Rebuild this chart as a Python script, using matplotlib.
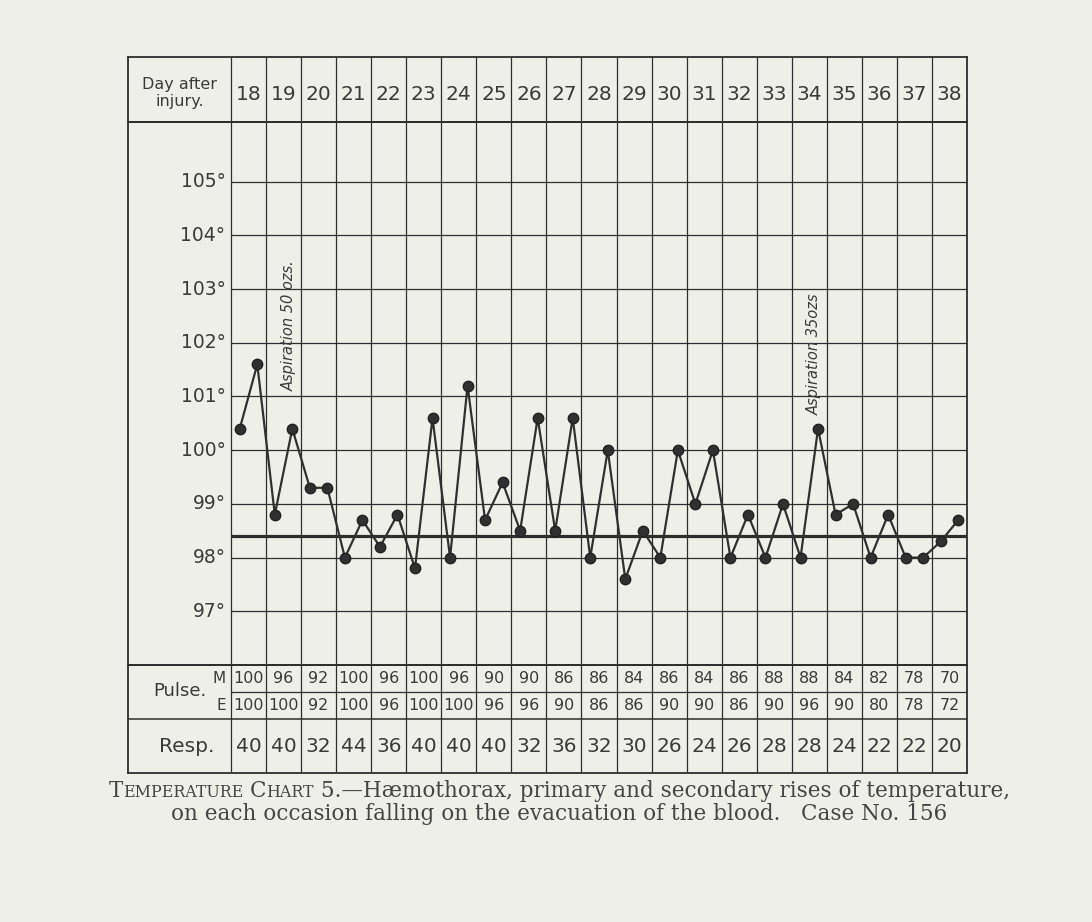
import numpy as np
import matplotlib

matplotlib.use("Agg")
import matplotlib.pyplot as plt

# --- chart data ---
DAYS = list(range(18, 39))
TEMP_M = [100.4, 98.8, 99.3, 98.0, 98.2, 97.8, 98.0, 98.7, 98.5, 98.5, 98.0,
          97.6, 98.0, 99.0, 98.0, 98.0, 98.0, 98.8, 98.0, 98.0, 98.3]
TEMP_E = [101.6, 100.4, 99.3, 98.7, 98.8, 100.6, 101.2, 99.4, 100.6, 100.6, 100.0,
          98.5, 100.0, 100.0, 98.8, 99.0, 100.4, 99.0, 98.8, 98.0, 98.7]
PULSE_M = [100, 96, 92, 100, 96, 100, 96, 90, 90, 86, 86,
           84, 86, 84, 86, 88, 88, 84, 82, 78, 70]
PULSE_E = [100, 100, 92, 100, 96, 100, 100, 96, 96, 90, 86,
           86, 90, 90, 86, 90, 96, 90, 80, 78, 72]
RESP = [40, 40, 32, 44, 36, 40, 40, 40, 32, 36, 32,
        30, 26, 24, 26, 28, 28, 24, 22, 22, 20]
DEGREES = list(range(97, 106))
NORMAL = 98.4
NOTES = [(19, 101.1, "Aspiration 50 ozs."), (34, 100.65, "Aspiration 35ozs")]

CAPTION_1 = [("T", 1.0), ("EMPERATURE", 0.74), (" ", 1.0), ("C", 1.0), ("HART", 0.74),
             (" 5.—Hæmothorax, primary and secondary rises of temperature,", 1.0)]
CAPTION_2 = [("on each occasion falling on the evacuation of the blood.   Case No. 156", 1.0)]

PAPER = "#efefea"
LINE = "#2e2e2e"
INK = "#3a3a3a"
SANS = "DejaVu Sans"
SERIF = "DejaVu Serif"

W, H = 1092, 922
L, R = 128, 967
X0 = 17.5 - 103 / 35.05          # label column, in day units

fig = plt.figure(figsize=(W / 100, H / 100), dpi=100, facecolor=PAPER)


def panel(top, bottom, ylim):
    ax = fig.add_axes([L / W, 1 - bottom / H, (R - L) / W, (bottom - top) / H])
    ax.set_xlim(X0, 38.5)
    ax.set_ylim(*ylim)
    ax.set_xticks([]); ax.set_yticks([])
    ax.patch.set_alpha(0)
    for s in ax.spines.values():
        s.set_color(LINE); s.set_linewidth(1.3)
    ax.vlines(np.arange(17.5, 38.5), *ylim, color=LINE, lw=0.9)
    return ax


ax_h = panel(57, 122, (0, 1))
ax_t = panel(122, 665, (96, 96 + 543 / 53.7))
ax_p = panel(665, 773, (0, 4))

# header
ax_h.text((X0 + 17.5) / 2, 0.44, "Day after\ninjury.", ha="center", va="center",
          fontsize=11.5, color=INK, family=SANS, linespacing=1.15)
for d in DAYS:
    ax_h.text(d, 0.42, str(d), ha="center", va="center", fontsize=14.5,
              color=INK, family=SANS)

# temperature grid and curve
ax_t.hlines(DEGREES, 17.5, 38.5, color=LINE, lw=0.9)
ax_t.hlines(NORMAL, 17.5, 38.5, color=LINE, lw=2.3, zorder=2)
for t in DEGREES:
    ax_t.annotate(f"{t}°", (17.5, t), xytext=(-4, 0), textcoords="offset points",
                  ha="right", va="center", fontsize=13.5, color=INK, family=SANS)
xs, ys = [], []
for d, m, e in zip(DAYS, TEMP_M, TEMP_E):
    xs += [d - 0.25, d + 0.25]
    ys += [m, e]
ax_t.plot(xs, ys, "-o", color="#303030", lw=1.6, ms=7.5, mec="#222222", zorder=3)
for d, t, txt in NOTES:
    ax_t.text(d + 0.15, t, txt, rotation=90, ha="center", va="bottom",
              fontsize=10.5, style="italic", color=INK, family=SANS)

# pulse / respiration table
ax_p.hlines(3, 17.5, 38.5, color=LINE, lw=0.9)
ax_p.hlines(2, X0, 38.5, color=LINE, lw=1.1)
ax_p.text(17.5 - 0.7, 3.05, "Pulse.", ha="right", va="center", fontsize=13,
          color=INK, family=SANS)
ax_p.text(17.5 - 0.15, 3.5, "M", ha="right", va="center", fontsize=11, color=INK, family=SANS)
ax_p.text(17.5 - 0.15, 2.5, "E", ha="right", va="center", fontsize=11, color=INK, family=SANS)
ax_p.text(17.5 - 1.25, 1.0, "Resp.", ha="center", va="center", fontsize=14.5,
          color=INK, family=SANS)
for d, pm, pe, r in zip(DAYS, PULSE_M, PULSE_E, RESP):
    ax_p.text(d, 3.5, str(pm), ha="center", va="center", fontsize=11.5, color=INK, family=SANS)
    ax_p.text(d, 2.5, str(pe), ha="center", va="center", fontsize=11.5, color=INK, family=SANS)
    ax_p.text(d, 1.0, str(r), ha="center", va="center", fontsize=14.5, color=INK, family=SANS)

# caption with fake small caps, fitted to the printed line width
rend = fig.canvas.get_renderer()


def caption_line(pieces, y_px, size):
    texts = [fig.text(0, 1 - y_px / H, s, fontsize=size * k, family=SERIF,
                      va="baseline", color="#454545") for s, k in pieces]
    widths = []
    for t, (s, k) in zip(texts, pieces):
        if s.strip() == "":
            widths.append(0.3 * size * k * 100 / 72)
        else:
            widths.append(t.get_window_extent(rend).width)
    x = (559 - sum(widths) / 2)
    for t, w in zip(texts, widths):
        t.set_x(x / W)
        x += w
    return texts, sum(widths)


texts, width = caption_line(CAPTION_1, 796, 15)
for t in texts:
    t.remove()
size = min(15 * 1023 / width, 15.5)
caption_line(CAPTION_1, 797, size)
caption_line(CAPTION_2, 820, size)

fig.savefig("out.png", dpi=100, facecolor=PAPER)
